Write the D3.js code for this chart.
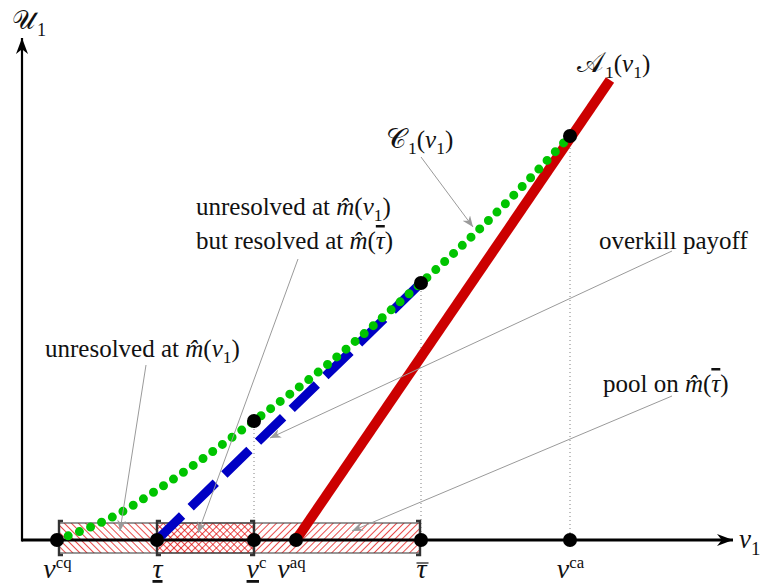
<!DOCTYPE html>
<html>
<head>
<meta charset="utf-8">
<script src="https://cdn.jsdelivr.net/npm/d3@7"></script>
<style>
  body { margin: 0; background: #fff; }
  text { font-family: "Liberation Serif", "Times New Roman", serif; fill: #111; }
</style>
</head>
<body>
<script>
const width = 762, height = 584;

// marked positions on the v1 axis
const tickKeys   = ["vcq", "tauLow", "vc", "vaq", "tauBar", "vca"];
const tickValues = [0.35, 1.35, 2.32, 2.74, 3.99, 5.48];

// C1(v1), green dotted
const greenV = [0.35, 0.98, 1.35, 2.32, 3.00, 3.99, 4.70, 5.48];
const greenU = [0.00, 0.27, 0.50, 1.19, 1.71, 2.57, 3.23, 4.04];

// blue dashed payoff
const blueV = [1.35, 3.99];
const blueU = [0.00, 2.57];

// A1(v1), red
const redV = [2.74, 5.88];
const redU = [0.00, 4.60];

// black points on the curves
const markV = [2.32, 3.99, 5.48];
const markU = [1.19, 2.57, 4.04];

// hatched intervals: [from, to]
const box1 = ["vcq", "vc"];        // unresolved at m(v1)
const box2 = ["tauLow", "tauBar"]; // pool on m(tau bar)

const tickOf = k => tickValues[tickKeys.indexOf(k)];

const svg = d3.select("body").append("svg")
    .attr("width", width)
    .attr("height", height);

let x = d3.scaleLinear().domain([0, 7.11]).range([22, 733]);
let y = d3.scaleLinear().domain([0, 5.02]).range([540, 38]);

const defs = svg.append("defs");

function hatch(id, angle) {
    let p = defs.append("pattern")
        .attr("id", id)
        .attr("patternUnits", "userSpaceOnUse")
        .attr("width", 5).attr("height", 5)
        .attr("patternTransform", "rotate(" + angle + ")");
    p.append("line")
        .attr("x1", 0).attr("y1", 0).attr("x2", 0).attr("y2", 5)
        .attr("stroke", "#e00000").attr("stroke-width", 1.4);
}
hatch("hatchBack", -45);
hatch("hatchFwd", 45);

function arrowMarker(id, color, len, half) {
    defs.append("marker")
        .attr("id", id)
        .attr("viewBox", (-len) + " " + (-half) + " " + (len + 1) + " " + (2 * half))
        .attr("refX", 0).attr("refY", 0)
        .attr("markerUnits", "userSpaceOnUse")
        .attr("markerWidth", len + 1).attr("markerHeight", 2 * half)
        .attr("orient", "auto")
      .append("path")
        .attr("d", "M0,0L" + (-len) + "," + (-half) + "L" + (-len * 0.7) + ",0L" + (-len) + "," + half + "Z")
        .attr("fill", color);
}
arrowMarker("axisArrow", "#000", 16, 6);
arrowMarker("greyArrow", "#9a9a9a", 11, 4.5);

// dotted guides from curve points down to axis
svg.append("g").selectAll("line")
    .data(markV).enter()
    .append("line")
    .attr("x1", d => x(d)).attr("x2", d => x(d))
    .attr("y1", (d, i) => y(markU[i])).attr("y2", y(0))
    .attr("stroke", "#808080").attr("stroke-width", 1)
    .attr("stroke-dasharray", "1,3");

// hatched boxes
const boxTop = y(0) - 17, boxBot = y(0) + 13;
svg.append("rect")
    .attr("x", x(tickOf(box1[0])) + 2).attr("y", boxTop)
    .attr("width", x(tickOf(box2[1])) - x(tickOf(box1[0])) - 2)
    .attr("height", boxBot - boxTop)
    .attr("fill", "#fff");
[[box1, "hatchBack"], [box2, "hatchFwd"]].forEach(([b, pat]) => {
    let x0 = x(tickOf(b[0])) + (b === box1 ? 2 : 0);
    let x1 = x(tickOf(b[1])) - (b === box2 ? 1 : 0);
    svg.append("rect")
        .attr("x", x0).attr("y", boxTop)
        .attr("width", x1 - x0).attr("height", boxBot - boxTop)
        .attr("fill", "url(#" + pat + ")")
        .attr("stroke", "#444").attr("stroke-width", 1.1);
});
// bracket ends
function bracket(px, dir) {
    let g = svg.append("g").attr("stroke", "#333").attr("fill", "none").attr("stroke-width", 2.4);
    g.append("path").attr("d",
        "M" + (px + 4 * dir) + "," + (boxTop - 2) + "H" + px + "V" + (boxBot + 2) + "H" + (px + 4 * dir));
}
bracket(x(tickOf(box1[0])) + 2, 1);
bracket(x(tickOf(box2[0])), 1);
bracket(x(tickOf(box1[1])), -1);
bracket(x(tickOf(box2[1])) - 1, -1);

// axes
svg.append("line")
    .attr("x1", x(0)).attr("x2", x.range()[1])
    .attr("y1", y(0)).attr("y2", y(0))
    .attr("stroke", "#000").attr("stroke-width", 3)
    .attr("marker-end", "url(#axisArrow)");
svg.append("line")
    .attr("x1", x(0)).attr("x2", x(0))
    .attr("y1", y(0) + 1.5).attr("y2", y.range()[1])
    .attr("stroke", "#000").attr("stroke-width", 2.2)
    .attr("marker-end", "url(#axisArrow)");

let xAxis = d3.axisBottom(x).tickValues(tickValues).tickSize(0).tickFormat("");
let axisG = svg.append("g")
    .attr("transform", "translate(0," + y(0) + ")")
    .call(xAxis);
axisG.select(".domain").remove();

// rich text helper: segments {t, i, sub, sup, deco, fam, big, dx}
function rich(parent, segs, size, px, py, anchor) {
    let t = parent.append("text")
        .attr("x", px).attr("y", py)
        .attr("font-size", size)
        .attr("text-anchor", anchor || "start");
    let shift = 0;
    segs.forEach(s => {
        let target = s.sub ? size * 0.25 : s.sup ? -size * 0.36 : 0;
        let sp = t.append("tspan").text(s.t).attr("dy", target - shift);
        shift = target;
        if (s.dx) sp.attr("dx", s.dx);
        if (s.i) sp.attr("font-style", "italic");
        if (s.sub || s.sup) sp.attr("font-size", size * (s.sup ? 0.6 : 0.7));
        if (s.big) sp.attr("font-size", size * s.big);
        if (s.deco) sp.attr("text-decoration", s.deco);
        if (s.fam) sp.attr("font-family", s.fam);
    });
    return t;
}

const tickLabels = {
    vcq:    [{t: "v", i: 1}, {t: "cq", sup: 1}],
    tauLow: [{t: "τ", i: 1, deco: "underline"}],
    vc:     [{t: "v", i: 1, deco: "underline"}, {t: "c", sup: 1}],
    vaq:    [{t: "v", i: 1}, {t: "aq", sup: 1}],
    tauBar: [{t: "τ", i: 1}],
    vca:    [{t: "v", i: 1}, {t: "ca", sup: 1}]
};
const labelShift = {vcq: 0, tauLow: 0, vc: 2, vaq: -5, tauBar: 0, vca: 0};

axisG.selectAll(".tick").each(function(d, i) {
    let k = tickKeys[i];
    let g = d3.select(this);
    rich(g, tickLabels[k], 28, labelShift[k], 38, "middle");
    if (k === "tauBar") {
        g.append("line")
            .attr("x1", -5).attr("x2", 7).attr("y1", 23).attr("y2", 23)
            .attr("stroke", "#111").attr("stroke-width", 1.2);
    }
});

// curves
svg.append("path")
    .datum(redV.map((v, i) => [v, redU[i]]))
    .attr("d", d3.line().x(d => x(d[0])).y(d => y(d[1])))
    .attr("stroke", "#cc0000").attr("stroke-width", 10).attr("fill", "none");

svg.append("path")
    .datum(blueV.map((v, i) => [v, blueU[i]]))
    .attr("d", d3.line().x(d => x(d[0])).y(d => y(d[1])))
    .attr("stroke", "#0000c4").attr("stroke-width", 9).attr("fill", "none")
    .attr("stroke-dasharray", "35,12");

svg.append("path")
    .datum(greenV.map((v, i) => [v, greenU[i]]))
    .attr("d", d3.line().curve(d3.curveMonotoneX).x(d => x(d[0])).y(d => y(d[1])))
    .attr("stroke", "#00c400").attr("stroke-width", 9).attr("fill", "none")
    .attr("stroke-linecap", "round")
    .attr("stroke-dasharray", "0,12");

// annotations: label, text position, leader start (px) and target (data)
const SCR = "'DejaVu Sans', 'Noto Sans', serif";
const tauBarSeg = {t: "τ", i: 1, deco: "overline"};
const notes = [
    {segs: [{t: "unresolved at "}, {t: "m̂", i: 1}, {t: "("}, {t: "v", i: 1}, {t: "1", sub: 1}, {t: ")"}],
     px: 45, py: 357, from: [146, 365], to: [0.98, 0.09]},
    {segs: [{t: "unresolved at "}, {t: "m̂", i: 1}, {t: "("}, {t: "v", i: 1}, {t: "1", sub: 1}, {t: ")"}],
     px: 196, py: 215, from: null, to: null},
    {segs: [{t: "but resolved at "}, {t: "m̂", i: 1}, {t: "("}, tauBarSeg, {t: ")"}],
     px: 196, py: 249, from: [298, 259], to: [1.76, 0.07]},
    {segs: [{t: "overkill payoff"}],
     px: 599, py: 249, from: [672, 251], to: [2.48, 1.02]},
    {segs: [{t: "pool on "}, {t: "m̂", i: 1}, {t: "("}, tauBarSeg, {t: ")"}],
     px: 603, py: 392, from: [672, 396], to: [3.30, 0.09]},
    {segs: [{t: "𝒞", fam: SCR, big: 1.12}, {t: "1", sub: 1, dx: 2}, {t: "("}, {t: "v", i: 1}, {t: "1", sub: 1}, {t: ")"}],
     px: 386, py: 148, from: [421, 157], to: [4.51, 3.13]},
    {segs: [{t: "𝒜", fam: SCR, big: 1.12}, {t: "1", sub: 1, dx: 2}, {t: "("}, {t: "v", i: 1}, {t: "1", sub: 1}, {t: ")"}],
     px: 577, py: 72, from: null, to: null}
];

notes.forEach(n => {
    rich(svg, n.segs, 25, n.px, n.py);
    if (n.from) {
        svg.append("line")
            .attr("x1", n.from[0]).attr("y1", n.from[1])
            .attr("x2", x(n.to[0])).attr("y2", y(n.to[1]))
            .attr("stroke", "#9a9a9a").attr("stroke-width", 1)
            .attr("marker-end", "url(#greyArrow)");
    }
});

// axis titles
rich(svg, [{t: "𝒰", fam: SCR}, {t: "1", sub: 1, dx: 2}], 26, 12, 29);
rich(svg, [{t: "v", i: 1}, {t: "1", sub: 1}], 27, 739, 548);

// black dots
let dots = tickValues.map(v => [v, 0]).concat(markV.map((v, i) => [v, markU[i]]));
svg.append("g").selectAll("circle")
    .data(dots).enter()
    .append("circle")
    .attr("cx", d => x(d[0]))
    .attr("cy", d => y(d[1]))
    .attr("r", 7)
    .attr("fill", "#000");
</script>
</body>
</html>
